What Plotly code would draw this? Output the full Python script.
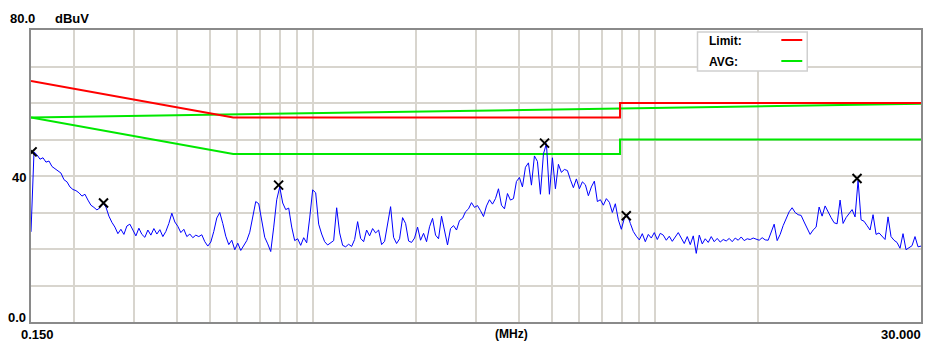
import numpy as np
import plotly.graph_objects as go

# Receiver scan, 0.15-30 MHz, log-spaced sweep points
F_START, F_STOP = 0.15, 30.0
level_dbuv = [
    24.7, 46.6, 45.8, 44.6, 45.0, 43.8, 44.1, 42.6, 42.0, 41.5,
    40.8, 39.0, 38.4, 37.0, 36.3, 36.0, 35.4, 34.5, 35.0, 33.4,
    32.0, 31.4, 30.7, 31.3, 32.6, 31.5, 29.0, 27.3, 26.0, 24.2,
    25.4, 24.0, 26.3, 26.8, 25.1, 23.6, 25.7, 24.0, 23.2, 25.2,
    23.8, 25.6, 24.1, 25.3, 23.4, 24.8, 27.0, 29.8, 27.4, 26.2,
    24.5, 25.4, 23.4, 24.1, 23.1, 23.8, 23.4, 23.9, 22.0, 20.8,
    21.9, 24.8, 28.5, 30.0, 27.0, 23.5, 21.2, 22.4, 19.8, 21.6,
    19.6, 21.0, 22.3, 24.6, 28.8, 33.0, 32.4, 28.0, 23.2, 21.4,
    19.3, 26.0, 33.5, 37.0, 32.6, 30.8, 31.2, 26.0, 22.3, 22.8,
    21.0, 23.1, 21.7, 28.5, 36.2, 35.4, 26.8, 24.1, 22.0, 21.1,
    21.8, 22.3, 31.3, 24.4, 21.0, 20.6, 21.3, 20.7, 22.6, 27.5,
    22.9, 22.0, 25.2, 23.6, 25.6, 24.4, 25.2, 21.2, 22.1, 26.4,
    31.6, 23.2, 21.5, 22.8, 28.6, 27.0, 22.2, 21.8, 23.0, 26.0,
    22.4, 24.3, 22.0, 26.1, 28.4, 23.8, 22.8, 29.0, 25.1, 21.1,
    25.6, 26.4, 25.2, 27.8, 28.4, 30.2, 31.0, 32.7, 31.4, 31.9,
    30.5, 28.9, 31.8, 33.5, 32.3, 33.8, 36.5, 32.0, 31.0, 35.2,
    33.4, 33.8, 38.5, 39.6, 37.0, 42.4, 43.6, 37.5, 45.5, 44.0,
    35.0, 46.0, 48.9, 35.0, 45.0, 36.5, 43.2, 41.0, 41.8, 41.5,
    39.0, 36.8, 39.2, 36.5, 38.4, 37.6, 34.6, 37.0, 38.6, 33.0,
    33.5, 32.0, 33.8, 32.8, 30.0, 32.4, 28.0, 25.4, 28.4, 29.4,
    27.0, 24.8, 23.5, 22.5, 24.2, 22.0, 24.0, 23.0, 24.5, 22.6,
    24.3, 23.8, 22.4, 23.5, 22.1, 23.2, 24.5, 23.0, 21.5, 23.4,
    21.2, 23.6, 18.8, 23.8, 21.4, 22.8, 21.8, 23.4, 22.0, 22.9,
    21.9, 22.6, 22.2, 22.9, 22.0, 23.0, 22.4, 23.3, 22.3, 22.8,
    22.6, 23.0, 22.6, 22.4, 23.1, 22.5, 22.4, 24.5, 26.8, 22.3,
    24.0, 26.4, 28.4, 30.2, 31.3, 30.0, 29.4, 29.2, 27.4, 25.8,
    24.0, 25.2, 26.0, 31.5, 29.0, 31.8, 30.0, 28.6, 27.2, 26.9,
    33.4, 27.0, 28.6, 29.6, 30.8, 28.8, 38.8, 28.0, 27.6, 26.4,
    25.2, 29.4, 24.0, 24.4, 23.4, 22.6, 28.8, 23.4, 22.4, 21.8,
    20.2, 24.2, 19.8, 20.4, 20.9, 23.4, 20.6, 20.8,
]
scan_freq_mhz = np.geomspace(F_START, F_STOP, len(level_dbuv))

# Peak markers
peak_freq_mhz = [0.151, 0.231, 0.655, 3.19, 5.19, 20.5]
peak_level_dbuv = [46.6, 32.6, 37.5, 49.0, 29.1, 39.3]

# Limit line (red)
limit_freq = [0.15, 0.5, 5.0, 5.0, 30.0]
limit_dbuv = [66.0, 56.0, 56.0, 60.0, 60.0]

# AVG lines (green)
avg_freq = [0.15, 0.5, 5.0, 5.0, 30.0]
avg_dbuv = [56.0, 46.0, 46.0, 50.0, 50.0]
avg2_freq = [0.15, 30.0]
avg2_dbuv = [56.0, 59.8]

# Grid frequencies (grid axis spans 0.15-60 MHz)
grid_freq = [0.2, 0.3, 0.4, 0.5, 0.6, 0.7, 0.8, 0.9, 1, 2, 3, 4, 5, 6, 7, 8, 9, 10, 20]

W, H = 925, 342
L, R, T, B = 31, 923, 30, 322
GRID = "#d8d5ce"
RED = "#ff0000"
GREEN = "#00e800"
FONT = "Liberation Sans"


def px(xp):
    return (xp - L) / (R - L)


def py(yp):
    return (B - yp) / (B - T)


fig = go.Figure()

# invisible point so the grid axis is laid out
fig.add_trace(go.Scatter(x=[1.0], y=[0], xaxis="x2", mode="markers",
                         marker=dict(opacity=0), hoverinfo="skip", showlegend=False))

fig.add_trace(go.Scatter(x=avg2_freq, y=avg2_dbuv, mode="lines",
                         line=dict(color=GREEN, width=2), showlegend=False))
fig.add_trace(go.Scatter(x=avg_freq, y=avg_dbuv, mode="lines",
                         line=dict(color=GREEN, width=2), showlegend=False))
fig.add_trace(go.Scatter(x=limit_freq, y=limit_dbuv, mode="lines",
                         line=dict(color=RED, width=2), showlegend=False))
fig.add_trace(go.Scatter(x=scan_freq_mhz, y=level_dbuv, mode="lines",
                         line=dict(color="#0000ff", width=1), showlegend=False))
fig.add_trace(go.Scatter(x=peak_freq_mhz, y=peak_level_dbuv, mode="markers",
                         marker=dict(symbol="x-thin", size=9, color="black",
                                     line=dict(color="black", width=2)),
                         showlegend=False))

fig.update_layout(
    width=W, height=H, autosize=False,
    margin=dict(l=L, r=W - R, t=T, b=H - B, pad=0),
    paper_bgcolor="white", plot_bgcolor="white",
    xaxis=dict(type="log", range=[np.log10(F_START), np.log10(F_STOP)],
               showgrid=False, zeroline=False, showticklabels=False, ticks="",
               showline=True, mirror=True, linecolor="#8a8a8a", linewidth=2),
    xaxis2=dict(type="log", overlaying="x", range=[np.log10(0.15), np.log10(60)],
                tickvals=grid_freq, showgrid=True, gridcolor=GRID, gridwidth=1.5,
                showticklabels=False, ticks="", zeroline=False, showline=False),
    yaxis=dict(range=[0, 80], dtick=10, showgrid=True, gridcolor=GRID, gridwidth=1.5,
               showticklabels=False, ticks="", zeroline=False,
               showline=True, mirror=True, linecolor="#8a8a8a", linewidth=2),
    hovermode=False,
)

texts = [
    ("<b>80.0</b>", 8, 18, "left", 13),
    ("<b>dBuV</b>", 53, 18, "left", 13),
    ("<b>40</b>", 28, 177, "right", 13),
    ("<b>0.0</b>", 28, 317, "right", 13),
    ("<b>0.150</b>", 19, 334, "left", 13),
    ("<b>(MHz)</b>", 513, 334, "center", 12),
    ("<b>30.000</b>", 925, 334, "right", 13),
]
for t, xp, yp, anchor, size in texts:
    fig.add_annotation(text=t, x=px(xp), y=py(yp), xref="paper", yref="paper",
                       xanchor=anchor, yanchor="middle", showarrow=False,
                       font=dict(family=FONT, size=size, color="black"))

# legend box
fig.add_shape(type="rect", xref="paper", yref="paper",
              x0=px(699), x1=px(809), y0=py(71), y1=py(32),
              line=dict(color="#cfcfcf", width=1.5), fillcolor="white", layer="above")
for label, yp, col in [("Limit:", 41, RED), ("AVG:", 62, GREEN)]:
    fig.add_annotation(text=f"<b>{label}</b>", x=px(709), y=py(yp), xref="paper", yref="paper",
                       xanchor="left", yanchor="middle", showarrow=False,
                       font=dict(family=FONT, size=12, color="black"))
    fig.add_shape(type="line", xref="paper", yref="paper",
                  x0=px(783), x1=px(804), y0=py(yp - 1), y1=py(yp - 1),
                  line=dict(color=col, width=2), layer="above")

fig.write_html("out.html")
